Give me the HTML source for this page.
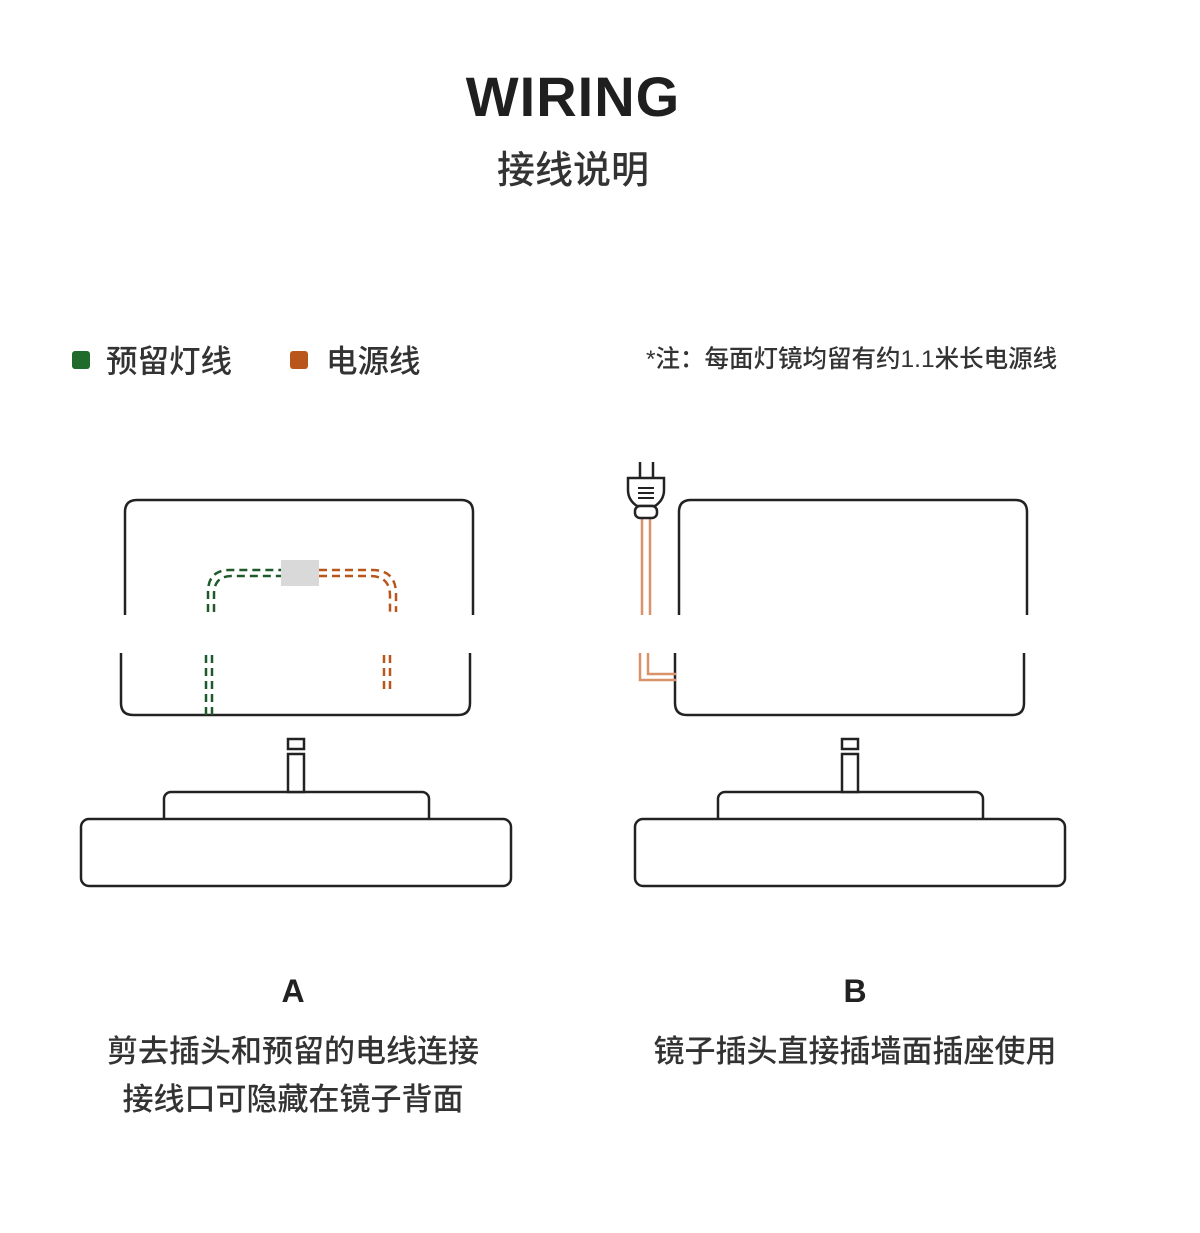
<!DOCTYPE html>
<html><head><meta charset="utf-8"><style>
body{margin:0;width:1200px;height:1233px;background:#fff;overflow:hidden;font-family:"Liberation Sans","Noto Sans CJK SC",sans-serif;color:#222}
.t{position:absolute;white-space:nowrap}
</style></head><body>
<div class="t" style="left:0;width:1146px;text-align:center;top:64px;font-size:56px;font-weight:bold;letter-spacing:1px;color:#1f1f1f">WIRING</div>
<div class="t" style="left:0;width:1146px;text-align:center;top:139px;font-size:38px;font-weight:500;color:#333">接线说明</div>
<div class="t" style="left:72px;top:336px;font-size:31.5px;font-weight:500;color:#333"><span style="display:inline-block;width:18px;height:18px;background:#1e6b2c;border-radius:3px;margin-right:16px;vertical-align:3px"></span>预留灯线</div>
<div class="t" style="left:290px;top:336px;font-size:31.5px;font-weight:500;color:#333"><span style="display:inline-block;width:18px;height:18px;background:#b8561c;border-radius:3px;margin-right:18px;vertical-align:3px"></span>电源线</div>
<div class="t" style="left:646px;top:340px;font-size:24.5px;font-weight:500;color:#333">*注：每面灯镜均留有约1.1米长电源线</div>
<div class="t" style="left:0;width:586px;text-align:center;top:973px;font-size:32px;font-weight:bold">A</div>
<div class="t" style="left:570px;width:570px;text-align:center;top:973px;font-size:32px;font-weight:bold">B</div>
<div class="t" style="left:0;width:586px;text-align:center;top:1028px;font-size:31px;font-weight:500;color:#333;line-height:48px">剪去插头和预留的电线连接<br>接线口可隐藏在镜子背面</div>
<div class="t" style="left:570px;width:570px;text-align:center;top:1028px;font-size:31px;font-weight:500;color:#333;line-height:48px">镜子插头直接插墙面插座使用</div>
<svg width="1200" height="1233" style="position:absolute;left:0;top:0" fill="none">
<g stroke="#222" stroke-width="2.5">
<path d="M125 615 V512 Q125 500 137 500 H461 Q473 500 473 512 V615"/>
<path d="M121 653 V703 Q121 715 133 715 H458 Q470 715 470 703 V653"/>
<path d="M679 615 V512 Q679 500 691 500 H1015 Q1027 500 1027 512 V615"/>
<path d="M675 653 V703 Q675 715 687 715 H1012 Q1024 715 1024 703 V653"/>
<rect x="164" y="792" width="265" height="40" rx="7" fill="#fff"/>
<rect x="81" y="819" width="430" height="67" rx="8" fill="#fff"/>
<rect x="718" y="792" width="265" height="40" rx="7" fill="#fff"/>
<rect x="635" y="819" width="430" height="67" rx="8" fill="#fff"/>
<rect x="288" y="754" width="16" height="38" fill="#fff"/>
<rect x="288" y="739" width="16" height="10"/>
<rect x="842" y="754" width="16" height="38" fill="#fff"/>
<rect x="842" y="739" width="16" height="10"/>
</g>
<g stroke-width="2.5" stroke-dasharray="8 5">
<path d="M208 612 V592 Q208 570 230 570 H281 M214 612 V594 Q214 576 232 576 H281" stroke="#1e5a2a"/>
<path d="M319 570 H372 Q396 570 396 594 V612 M319 576 H370 Q390 576 390 596 V612" stroke="#b8561c"/>
<path d="M206 655 V715 M212 655 V715" stroke="#1e5a2a"/>
<path d="M384 655 V690 M390 655 V690" stroke="#b8561c"/>
</g>
<rect x="281" y="560" width="38" height="26" fill="#d9d9d9"/>
<path d="M642 518 V615 M650 518 V615 M640 653 V680 H676 M648 653 V674 H676" stroke="#d9936a" stroke-width="2.5"/>
<g stroke="#222" stroke-width="2.5" fill="#fff">
<path d="M640 462 V478 M653 462 V478"/>
<path d="M628 478 H664 V490 Q664 500 655 506 H637 Q628 500 628 490 Z"/>
<rect x="635" y="506" width="22" height="12" rx="5"/>
<path d="M638 488 H654 M638 493 H654 M638 498 H654" stroke-width="2"/>
</g>
</svg>
</body></html>
